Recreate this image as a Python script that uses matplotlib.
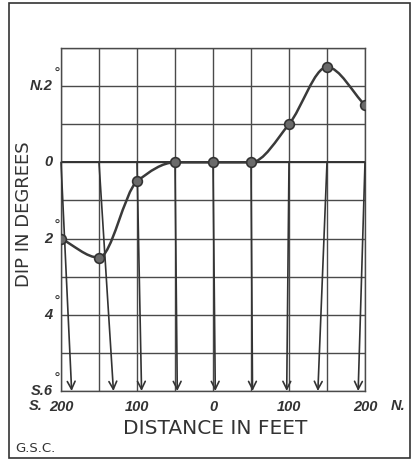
import matplotlib.pyplot as plt
import numpy as np
from matplotlib.path import Path
from matplotlib.patches import PathPatch, Rectangle

# stations (feet, S negative) and dip in degrees (N positive)
dist = [-200, -150, -100, -50, 0, 50, 100, 150, 200]
dip = [-2.0, -2.5, -0.5, 0.0, 0.0, 0.0, 1.0, 2.5, 1.5]
# where each dip arrow meets the base line
arrow_end = [-186, -131, -94, -47, 3, 52, 97, 138, 191]

x_labels = ["200", "", "100", "", "0", "", "100", "", "200"]
y_grid = [-6, -5, -4, -3, -2, -1, 0, 1, 2, 3]
y_ticks = [2, 0, -2, -4, -6]
y_labels = ["N.2", "0", "2", "4", "S.6"]
deg_ticks = [2, -2, -4, -6]

ink = '#333333'
grid_ink = '#4a4a4a'
lab_font = dict(family='Liberation Sans', style='italic', weight='bold', size=10.5, color=ink)


def pchip_path(x, y):
    # smooth monotone curve through the points, drawn as cubic bezier pieces
    x = np.asarray(x, float)
    y = np.asarray(y, float)
    h = np.diff(x)
    s = np.diff(y) / h
    d = np.zeros_like(y)
    for k in range(1, len(x) - 1):
        if s[k - 1] * s[k] > 0:
            w1 = 2 * h[k] + h[k - 1]
            w2 = h[k] + 2 * h[k - 1]
            d[k] = (w1 + w2) / (w1 / s[k - 1] + w2 / s[k])
    d[0] = s[0]
    d[-1] = s[-1]
    verts = [(x[0], y[0])]
    codes = [Path.MOVETO]
    for i in range(len(x) - 1):
        verts += [(x[i] + h[i] / 3, y[i] + d[i] * h[i] / 3),
                  (x[i + 1] - h[i] / 3, y[i + 1] - d[i + 1] * h[i] / 3),
                  (x[i + 1], y[i + 1])]
        codes += [Path.CURVE4] * 3
    return Path(verts, codes)


fig = plt.figure(figsize=(4.15, 4.61), dpi=100)
ax = fig.add_axes([0.147, 0.1518, 0.7325, 0.744])
ax.set_xlim(-200, 200)
ax.set_ylim(-6, 3)

ax.set_xticks(dist)
ax.set_xticklabels(x_labels, fontdict=lab_font)
ax.set_yticks(y_grid)
ax.set_yticklabels([''] * len(y_grid))
for t, lab in zip(y_ticks, y_labels):
    ax.text(-0.028, t, lab, transform=ax.get_yaxis_transform(), ha='right', va='center', **lab_font)
for t in deg_ticks:
    ax.annotate('°', xy=(-0.012, t), xycoords=ax.get_yaxis_transform(),
                xytext=(0, 9), textcoords='offset points', ha='center', va='center',
                fontsize=10, color=ink, family='DejaVu Sans')
ax.tick_params(length=0, pad=6.5)
ax.grid(True, color=grid_ink, lw=1.0)
for sp in ax.spines.values():
    sp.set_color(grid_ink)
    sp.set_linewidth(1.0)
ax.axhline(0, color=ink, lw=1.4)

ax.text(-0.06, -0.044, 'S.', transform=ax.transAxes, ha='right', va='center', **lab_font)
ax.text(1.085, -0.044, 'N.', transform=ax.transAxes, ha='left', va='center', **lab_font)

# dip arrows from the zero line down to the base
for x0, x1 in zip(dist, arrow_end):
    ax.annotate('', xy=(x1, -6), xytext=(x0, 0),
                arrowprops=dict(arrowstyle='->,head_length=0.4,head_width=0.2',
                                color=ink, lw=1.2, shrinkA=0, shrinkB=0,
                                mutation_scale=14))

ax.add_patch(PathPatch(pchip_path(dist, dip), fill=False, ec='#3a3a3a', lw=1.8, zorder=4))
ax.plot(dist, dip, 'o', ms=7, mfc='#6a6a6a', mec='#333333', mew=1.2, zorder=5)

fig.text(215 / 415, 1 - 428 / 461, 'DISTANCE IN FEET', ha='center', va='center',
         family='DejaVu Sans', size=14.5, color=ink)
fig.text(24 / 415, 1 - 214 / 461, 'DIP IN DEGREES', ha='center', va='center', rotation=90,
         family='DejaVu Sans', size=13, color=ink)
fig.text(15 / 415, 1 - 448 / 461, 'G.S.C.', ha='left', va='center',
         family='DejaVu Sans', size=9.5, color=ink)

fig.patches.append(Rectangle((9 / 415, 3 / 461), 401 / 415, 455 / 461, transform=fig.transFigure,
                             fill=False, ec=ink, lw=1.2))

fig.savefig('out.png', dpi=100)
